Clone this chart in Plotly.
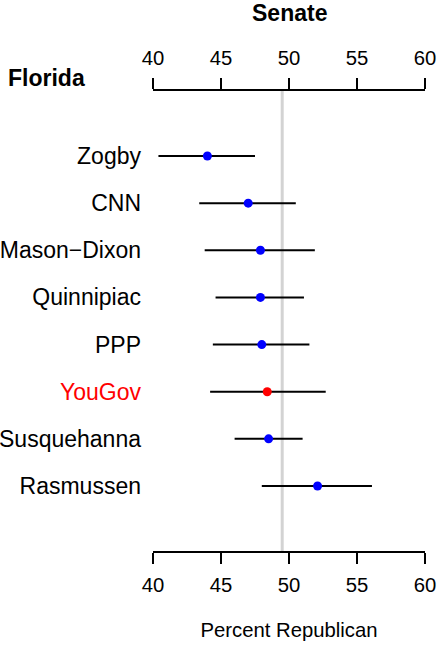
import plotly.graph_objects as go

pollsters = ["Zogby", "CNN", "Mason\u2212Dixon", "Quinnipiac", "PPP", "YouGov", "Susquehanna", "Rasmussen"]
estimate = [44.0, 47.0, 47.9, 47.9, 48.0, 48.4, 48.5, 52.1]
lower = [40.4, 43.4, 43.8, 44.6, 44.4, 44.2, 46.0, 48.0]
upper = [47.5, 50.5, 51.9, 51.1, 51.5, 52.7, 51.0, 56.1]
highlight = "YouGov"
reference_value = 49.5
x_ticks = [40, 45, 50, 55, 60]

positions = list(range(len(pollsters)))
colors = ["red" if p == highlight else "blue" for p in pollsters]
ticktext = [f'<span style="color:red">{p}</span>' if p == highlight else p for p in pollsters]

FONT = "Liberation Sans, Arial, sans-serif"

W, H = 439, 645
L, T = 152.7, 91
R, B = 14, 94
pw, ph = W - L - R, H - T - B

def px_x(x):
    return (x - L) / pw

def px_y(y):
    return (T + ph - y) / ph

fig = go.Figure()
fig.add_trace(go.Scatter(
    x=estimate, y=positions, mode="markers",
    marker=dict(color=colors, size=9, line=dict(width=0)),
    error_x=dict(type="data", symmetric=False,
                 array=[u - e for u, e in zip(upper, estimate)],
                 arrayminus=[e - l for e, l in zip(estimate, lower)],
                 width=0, thickness=2, color="black"),
    xaxis="x", yaxis="y", showlegend=False, hoverinfo="skip", cliponaxis=False,
))
fig.add_trace(go.Scatter(x=[x_ticks[0]], y=[positions[0]], mode="markers",
                         marker=dict(opacity=0), xaxis="x2", yaxis="y",
                         showlegend=False, hoverinfo="skip"))

fig.add_shape(type="line", xref="x", yref="paper", x0=reference_value, x1=reference_value,
              y0=0, y1=1, line=dict(color="#d3d3d3", width=3), layer="below")

axis_common = dict(range=[x_ticks[0], x_ticks[-1]], tickvals=x_ticks, ticks="outside",
                   ticklen=11, tickwidth=2, tickcolor="black", showline=True,
                   linecolor="black", linewidth=2, showgrid=False, zeroline=False,
                   automargin=False,
                   tickfont=dict(family=FONT, size=20.3, color="black"))

fig.update_layout(
    width=W, height=H,
    margin=dict(l=L, r=R, t=T, b=B, pad=0, autoexpand=False),
    paper_bgcolor="white", plot_bgcolor="white",
    xaxis=dict(side="top", ticklabelstandoff=5, **axis_common),
    xaxis2=dict(side="bottom", overlaying="x", anchor="y", ticklabelstandoff=4,
                title=dict(text="Percent Republican", standoff=27,
                           font=dict(family=FONT, size=20.3, color="black")),
                **axis_common),
    yaxis=dict(range=[positions[-1] + 1.379, positions[0] - 1.379], tickvals=positions,
               ticktext=ticktext, ticks="", showline=False, showgrid=False,
               zeroline=False, ticklabelstandoff=11, automargin=False,
               tickfont=dict(family=FONT, size=23, color="black")),
    annotations=[
        dict(text="<b>Senate</b>", xref="paper", yref="paper", x=0.5, y=px_y(13),
             xanchor="center", yanchor="middle", showarrow=False,
             font=dict(family=FONT, size=23, color="black")),
        dict(text="<b>Florida</b>", xref="paper", yref="paper", x=px_x(5.7),
             y=px_y(78), xanchor="left", yanchor="middle", showarrow=False,
             font=dict(family=FONT, size=23, color="black")),
    ],
)

fig.write_html(
    "out.html",
    config={"displayModeBar": False},
    post_script="document.body.style.margin='0';document.body.style.overflow='hidden';",
)
